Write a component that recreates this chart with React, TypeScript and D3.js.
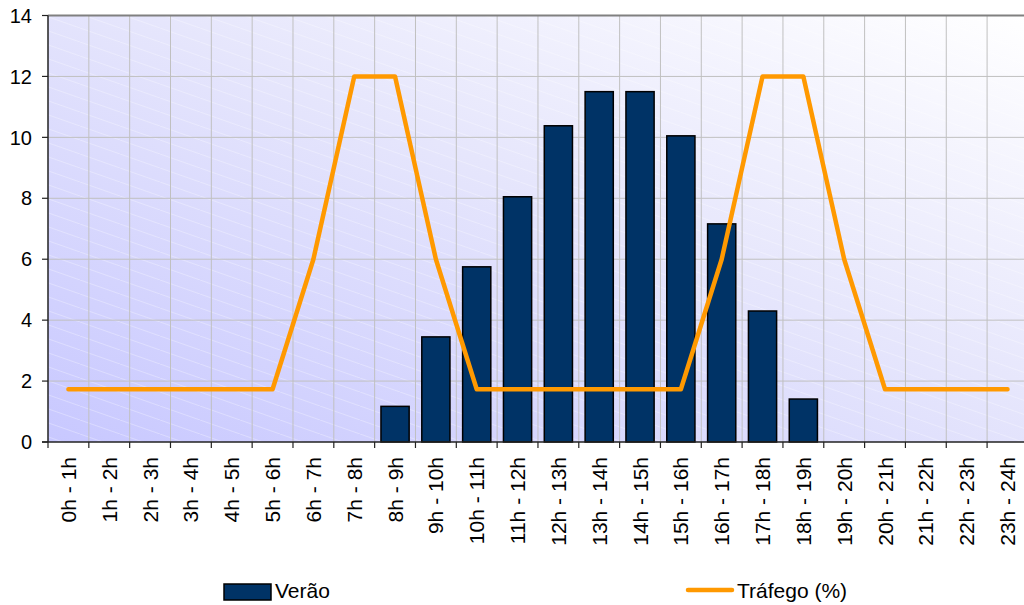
import React, { useEffect, useRef } from 'react';
import * as d3 from 'd3';

const categories = [
  '0h - 1h', '1h - 2h', '2h - 3h', '3h - 4h', '4h - 5h', '5h - 6h', '6h - 7h', '7h - 8h',
  '8h - 9h', '9h - 10h', '10h - 11h', '11h - 12h', '12h - 13h', '13h - 14h', '14h - 15h',
  '15h - 16h', '16h - 17h', '17h - 18h', '18h - 19h', '19h - 20h', '20h - 21h', '21h - 22h',
  '22h - 23h', '23h - 24h',
];
const verao = [0, 0, 0, 0, 0, 0, 0, 0, 1.17, 3.45, 5.75, 8.05, 10.38, 11.5, 11.5, 10.05, 7.16, 4.3, 1.41, 0, 0, 0, 0, 0];
const trafego = [1.73, 1.73, 1.73, 1.73, 1.73, 1.73, 6, 12, 12, 6, 1.73, 1.73, 1.73, 1.73, 1.73, 1.73, 6, 12, 12, 6, 1.73, 1.73, 1.73, 1.73];
const yTicks = [0, 2, 4, 6, 8, 10, 12, 14];

const FONT = 'Liberation Sans, Arial, sans-serif';

const App = () => {
  const ref = useRef<SVGSVGElement>(null);

  useEffect(() => {
    if (!ref.current) return;
    const svg = d3.select(ref.current);
    svg.selectAll('*').remove();

    const left = 48, top = 15.5, bottom = 442;
    const bandW = 40.83;
    const right = left + bandW * categories.length;

    const x = d3.scaleBand<string>().domain(categories).range([left, right]).paddingInner(0.31).paddingOuter(0.155);
    const xc = (i: number) => left + bandW * (i + 0.5);
    const y = d3.scaleLinear().domain([0, 14]).range([bottom, top]);

    const defs = svg.append('defs');
    const grad = defs.append('linearGradient').attr('id', 'bg').attr('x1', 0).attr('y1', 1).attr('x2', 1).attr('y2', 0);
    grad.append('stop').attr('offset', '0%').attr('stop-color', '#c8c8ff');
    grad.append('stop').attr('offset', '55%').attr('stop-color', '#e6e6fc');
    grad.append('stop').attr('offset', '100%').attr('stop-color', '#ffffff');
    const pat = defs.append('pattern').attr('id', 'hatch').attr('patternUnits', 'userSpaceOnUse')
      .attr('width', 40).attr('height', 14);
    pat.append('line').attr('x1', 0).attr('y1', 0).attr('x2', 40).attr('y2', 14)
      .attr('stroke', '#ffffff').attr('stroke-width', 0.6).attr('stroke-opacity', 0.5);

    svg.append('rect').attr('x', left).attr('y', top).attr('width', right - left).attr('height', bottom - top).attr('fill', 'url(#bg)');
    svg.append('rect').attr('x', left).attr('y', top).attr('width', right - left).attr('height', bottom - top).attr('fill', 'url(#hatch)');

    // grid
    svg.append('g').selectAll('line').data(yTicks.filter(t => t > 0 && t < 14)).join('line')
      .attr('x1', left).attr('x2', right).attr('y1', d => y(d)).attr('y2', d => y(d))
      .attr('stroke', '#c0c0c0').attr('stroke-width', 1);
    svg.append('g').selectAll('line').data(d3.range(1, categories.length)).join('line')
      .attr('x1', i => left + bandW * i).attr('x2', i => left + bandW * i).attr('y1', top).attr('y2', bottom)
      .attr('stroke', '#c0c0c0').attr('stroke-width', 1);

    // top border
    svg.append('line').attr('x1', left).attr('x2', right).attr('y1', top).attr('y2', top)
      .attr('stroke', '#808080').attr('stroke-width', 2);

    // bars
    svg.append('g').selectAll('rect').data(verao.map((v, i) => ({ v, c: categories[i] })).filter(d => d.v > 0)).join('rect')
      .attr('x', d => x(d.c)!).attr('width', x.bandwidth())
      .attr('y', d => y(d.v)).attr('height', d => bottom - y(d.v))
      .attr('fill', '#003366').attr('stroke', '#000').attr('stroke-width', 1.5);

    // axes
    svg.append('line').attr('x1', left).attr('x2', left).attr('y1', top).attr('y2', bottom).attr('stroke', '#222').attr('stroke-width', 1.5);
    svg.append('line').attr('x1', left - 6).attr('x2', right).attr('y1', bottom).attr('y2', bottom).attr('stroke', '#222').attr('stroke-width', 1.5);
    svg.append('g').selectAll('line').data(yTicks).join('line')
      .attr('x1', left - 6).attr('x2', left).attr('y1', d => y(d)).attr('y2', d => y(d)).attr('stroke', '#222').attr('stroke-width', 1.2);
    svg.append('g').selectAll('text').data(yTicks).join('text')
      .attr('x', left - 16).attr('y', d => y(d)).attr('dy', '0.36em').attr('text-anchor', 'end')
      .attr('font-family', FONT).attr('font-size', 20).attr('fill', '#000')
      .text(d => d);
    svg.append('g').selectAll('line').data(d3.range(0, categories.length)).join('line')
      .attr('x1', i => left + bandW * i).attr('x2', i => left + bandW * i).attr('y1', bottom).attr('y2', bottom + 6)
      .attr('stroke', '#222').attr('stroke-width', 1.2);
    svg.append('g').selectAll('text').data(categories).join('text')
      .attr('transform', (d, i) => `translate(${xc(i) + 7.5},${bottom + 15}) rotate(-90)`)
      .attr('text-anchor', 'end')
      .attr('font-family', FONT).attr('font-size', 21).attr('fill', '#000')
      .text(d => d);

    // line
    svg.append('path').datum(trafego)
      .attr('fill', 'none').attr('stroke', '#ff9900').attr('stroke-width', 4.5)
      .attr('stroke-linecap', 'round').attr('stroke-linejoin', 'round')
      .attr('d', d3.line<number>().x((d, i) => xc(i)).y(d => y(d)));

    // legend
    const lg = svg.append('g').attr('font-family', FONT).attr('font-size', 21);
    lg.append('rect').attr('x', 224).attr('y', 584).attr('width', 47).attr('height', 16)
      .attr('fill', '#003366').attr('stroke', '#000').attr('stroke-width', 1.5);
    lg.append('text').attr('x', 275).attr('y', 598).text('Verão');
    lg.append('line').attr('x1', 688).attr('x2', 732).attr('y1', 590).attr('y2', 590)
      .attr('stroke', '#ff9900').attr('stroke-width', 4.5).attr('stroke-linecap', 'round');
    lg.append('text').attr('x', 737).attr('y', 598).text('Tráfego (%)');
  }, []);

  return (
    <div style={{ position: 'absolute', left: 0, top: 0, width: 1024, height: 605, overflow: 'hidden', background: '#fff' }}>
      <svg ref={ref} width={1024} height={605} />
    </div>
  );
};

export default App;
